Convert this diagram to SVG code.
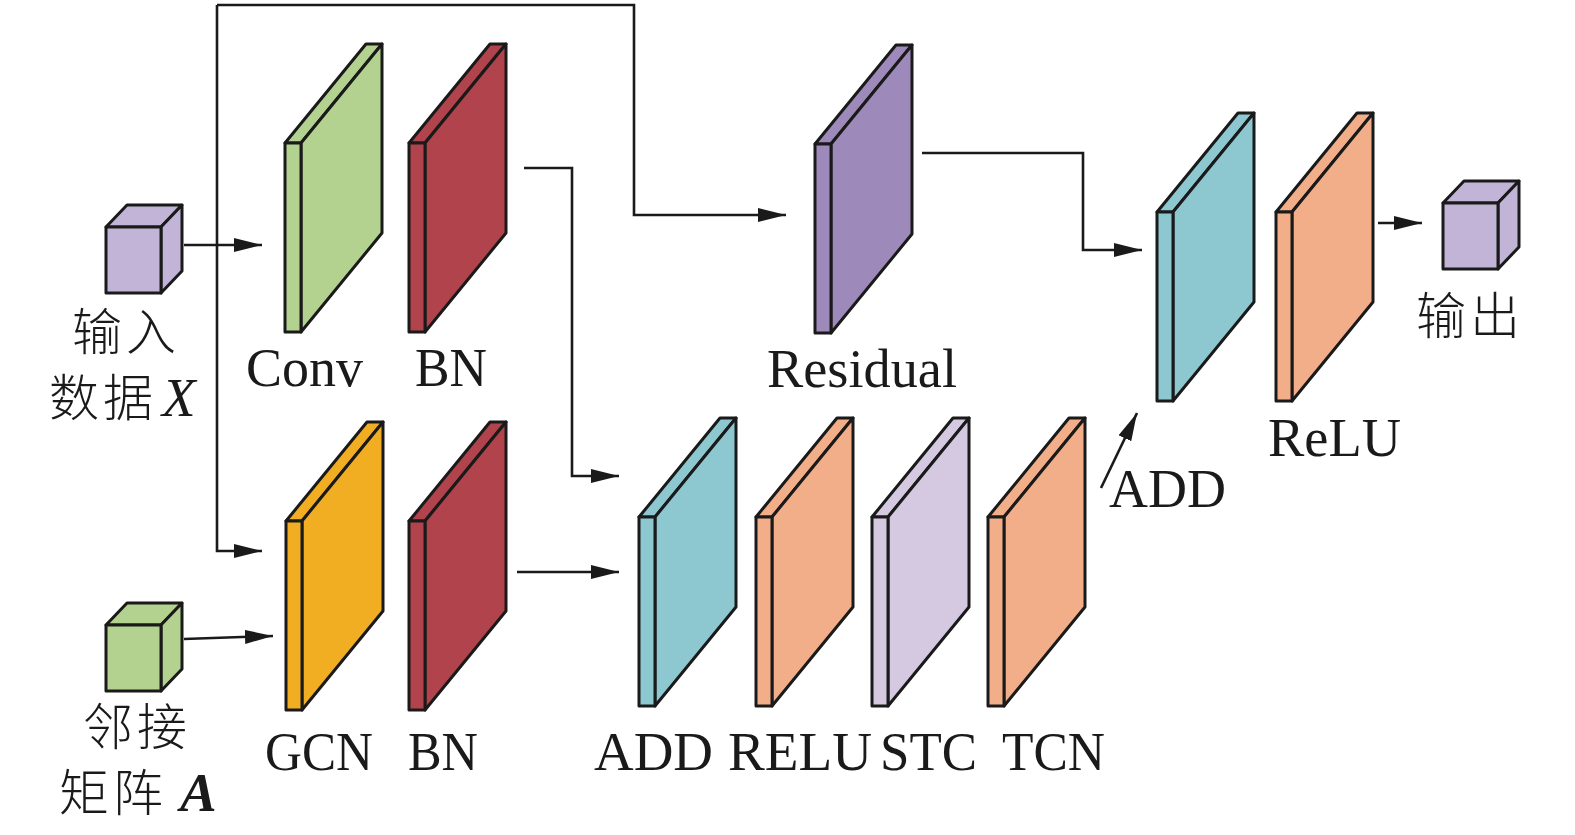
<svg xmlns="http://www.w3.org/2000/svg" xmlns:xlink="http://www.w3.org/1999/xlink" width="1575" height="835" viewBox="0 0 1575 835">
<style>
.shape{stroke:#1a1a1a;stroke-width:3;stroke-linejoin:round}
.conn{fill:none;stroke:#1a1a1a;stroke-width:2.6}
.lbl{font-family:"Liberation Serif","Noto Sans CJK SC",serif;font-size:55px;fill:#1a1a1a}
.cjk{font-family:"Noto Sans CJK SC","Liberation Serif",sans-serif;font-size:50px;font-weight:300;letter-spacing:4px;fill:#1a1a1a}
.green{fill:#b3d18f}.red{fill:#b0434b}.purple{fill:#9e8aba}.cyan{fill:#8dc8d1}
.orange{fill:#f2ae88}.lav{fill:#d5c9e1}.gold{fill:#f1ae23}.cube{fill:#c1b4d6}
</style>
<defs>
<g id="plate" class="shape">
<polygon points="0,0 16,0 97,-99 81,-99"/>
<polygon points="16,0 97,-99 97,90 16,189"/>
<rect x="0" y="0" width="16" height="189"/>
</g>
<g id="cubeShape" class="shape">
<polygon points="0,0 55,0 76,-22 21,-22"/>
<polygon points="55,0 76,-22 76,44 55,66"/>
<rect x="0" y="0" width="55" height="66"/>
</g>
<marker id="arr" markerUnits="userSpaceOnUse" markerWidth="30" markerHeight="16" refX="28" refY="7" orient="auto">
<path d="M0,0 L28,7 L0,14 Z" fill="#1a1a1a"/>
</marker>
</defs>

<g id="connectors">
<path class="conn" d="M184,245 H262" marker-end="url(#arr)"/>
<path class="conn" d="M217,5 V551 H262" marker-end="url(#arr)"/>
<path class="conn" d="M217,5 H634 V215 H786" marker-end="url(#arr)"/>
<path class="conn" d="M524,168 H572 V476 H619" marker-end="url(#arr)"/>
<path class="conn" d="M517,572 H619" marker-end="url(#arr)"/>
<path class="conn" d="M184,639 L273,636" marker-end="url(#arr)"/>
<path class="conn" d="M922,153 H1083 V250 H1142" marker-end="url(#arr)"/>
<path class="conn" d="M1101,488 L1137,413" marker-end="url(#arr)"/>
<path class="conn" d="M1378,223 H1422" marker-end="url(#arr)"/>
</g>

<g id="input">
<use xlink:href="#cubeShape" x="106" y="227" class="cube"/>
<text class="cjk" x="72" y="350">输入</text>
<text class="cjk" x="49" y="416">数据</text>
<text class="lbl" x="162" y="416" font-style="italic">X</text>
</g>

<g id="adjacency">
<use xlink:href="#cubeShape" x="106" y="625" class="green"/>
<text class="cjk" x="83" y="745">邻接</text>
<text class="cjk" x="59" y="811">矩阵</text>
<text class="lbl" x="180" y="811" font-style="italic" font-weight="bold">A</text>
</g>

<g id="conv">
<use xlink:href="#plate" x="285" y="143" class="green"/>
<text class="lbl" x="246" y="386" textLength="117" lengthAdjust="spacingAndGlyphs">Conv</text>
</g>

<g id="bn1">
<use xlink:href="#plate" x="409" y="143" class="red"/>
<text class="lbl" x="415" y="386" textLength="72" lengthAdjust="spacingAndGlyphs">BN</text>
</g>

<g id="residual">
<use xlink:href="#plate" x="815" y="144" class="purple"/>
<text class="lbl" x="767" y="387" textLength="190" lengthAdjust="spacingAndGlyphs">Residual</text>
</g>

<g id="gcn">
<use xlink:href="#plate" x="286" y="521" class="gold"/>
<text class="lbl" x="265" y="770" textLength="108" lengthAdjust="spacingAndGlyphs">GCN</text>
</g>

<g id="bn2">
<use xlink:href="#plate" x="409" y="521" class="red"/>
<text class="lbl" x="408" y="770" textLength="70" lengthAdjust="spacingAndGlyphs">BN</text>
</g>

<g id="add1">
<use xlink:href="#plate" x="639" y="517" class="cyan"/>
<text class="lbl" x="594" y="770" textLength="119" lengthAdjust="spacingAndGlyphs">ADD</text>
</g>

<g id="relu1">
<use xlink:href="#plate" x="756" y="517" class="orange"/>
<text class="lbl" x="728" y="770" textLength="144" lengthAdjust="spacingAndGlyphs">RELU</text>
</g>

<g id="stc">
<use xlink:href="#plate" x="872" y="517" class="lav"/>
<text class="lbl" x="880" y="770" textLength="97" lengthAdjust="spacingAndGlyphs">STC</text>
</g>

<g id="tcn">
<use xlink:href="#plate" x="988" y="517" class="orange"/>
<text class="lbl" x="1002" y="770" textLength="103" lengthAdjust="spacingAndGlyphs">TCN</text>
</g>

<g id="add2">
<use xlink:href="#plate" x="1157" y="212" class="cyan"/>
<text class="lbl" x="1109" y="507" textLength="117" lengthAdjust="spacingAndGlyphs">ADD</text>
</g>

<g id="relu2">
<use xlink:href="#plate" x="1276" y="212" class="orange"/>
<text class="lbl" x="1268" y="456" textLength="133" lengthAdjust="spacingAndGlyphs">ReLU</text>
</g>

<g id="output">
<use xlink:href="#cubeShape" x="1443" y="203" class="cube"/>
<text class="cjk" x="1416" y="334">输出</text>
</g>
</svg>
